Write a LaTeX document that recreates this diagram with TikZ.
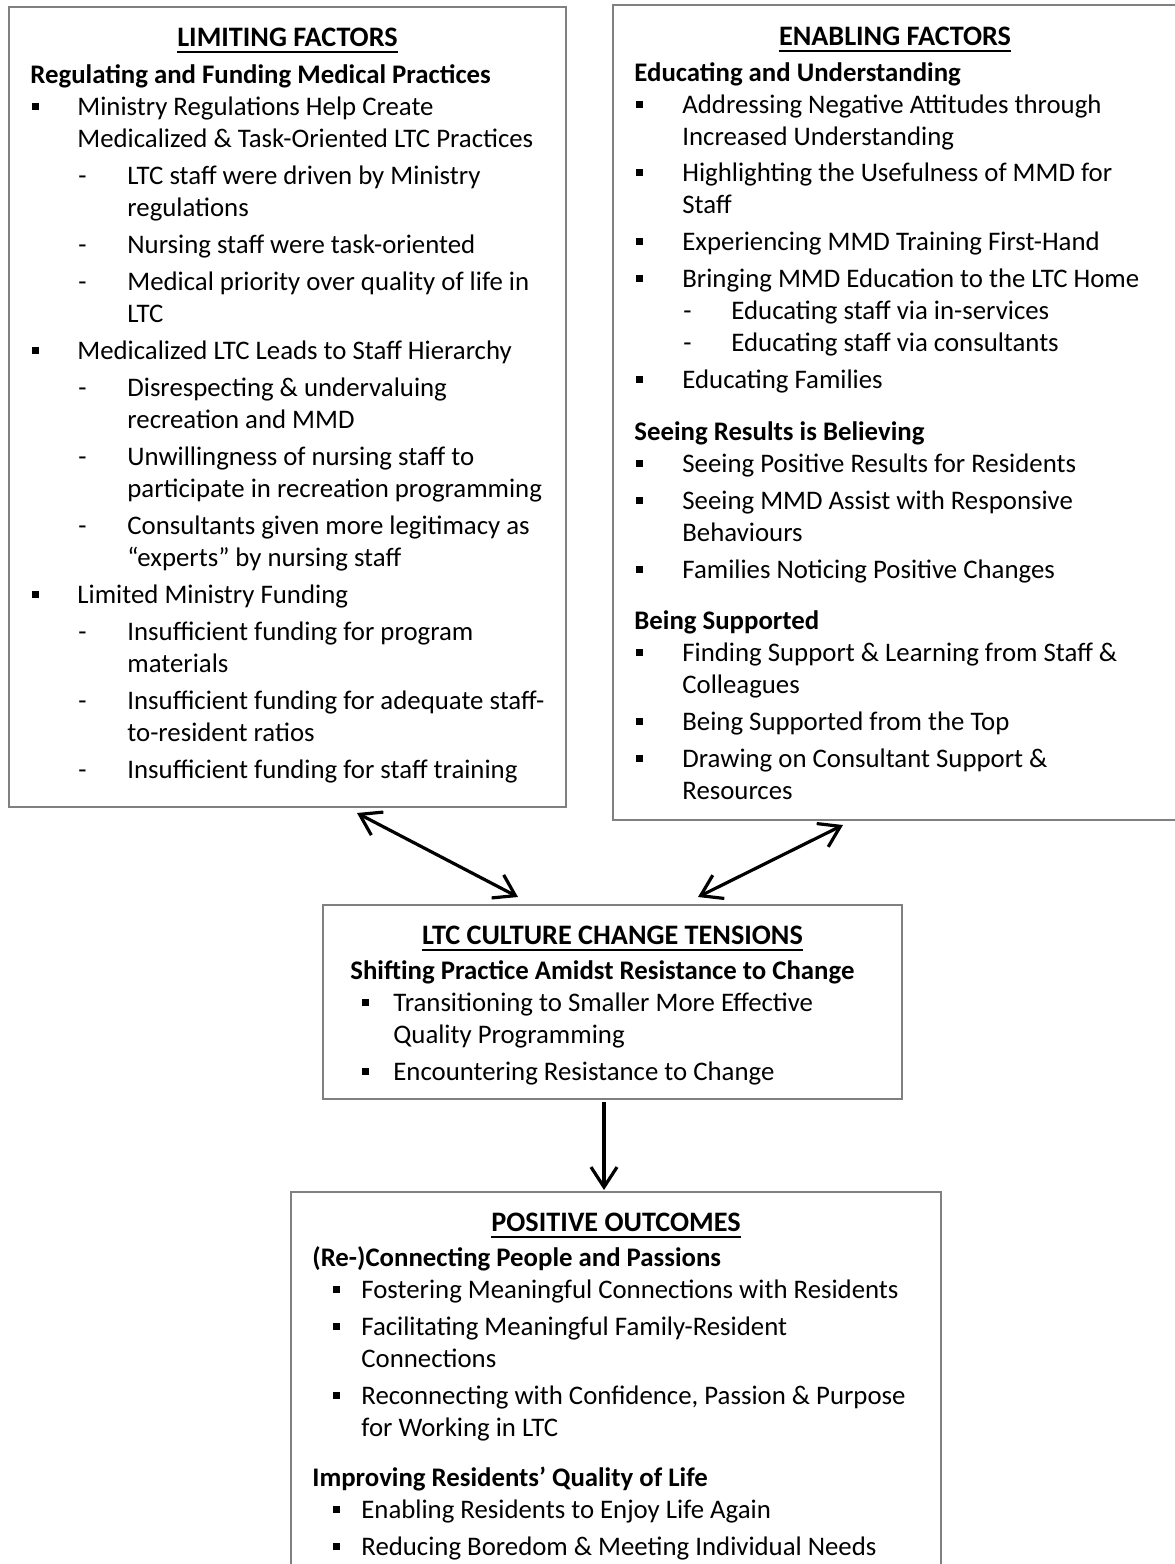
\documentclass[tikz,border=0pt]{standalone}
\usepackage{fontspec}
\setmainfont{Carlito}
\usetikzlibrary{arrows.meta,fit}
\definecolor{boxgray}{RGB}{128,128,128}
\tikzset{
  box/.style={draw=boxgray, line width=1pt, inner sep=0pt},
  txt/.style={anchor=base west, inner sep=0pt, font=\fontsize{13.4}{16}\selectfont},
  hdg/.style={anchor=base west, inner sep=0pt, font=\fontsize{13.4}{16}\selectfont\bfseries},
  ttl/.style={anchor=base, inner sep=0pt, font=\fontsize{14.1}{17}\selectfont\bfseries},
  uline/.style={line width=1pt},
  conn/.style={line width=1.6pt, {Straight Barb[length=10pt,width=13pt]}-{Straight Barb[length=10pt,width=13pt]}},
  conn1/.style={line width=1.6pt, -{Straight Barb[length=10pt,width=13pt]}},
}
\newcounter{tn}
\newcommand\mytl[3]{\stepcounter{tn}\node[txt] (t\arabic{tn}) at (#1,#2) {#3};}
\newcommand\myhd[3]{\stepcounter{tn}\node[hdg] (t\arabic{tn}) at (#1,#2) {#3};}
\newcommand\mytt[4]{\node[ttl] (#1) at (#2,#3) {#4};
  \draw[uline] ([yshift=-2.8pt]#1.base west) -- ([yshift=-2.8pt]#1.base east);}
\newcommand\mybul[4]{\fill (#1,#3-5) rectangle (#1+7,#3-12); \mytl{#2}{#3}{#4}}
\newcommand\mydash[4]{\mytl{#1}{#3}{-}\mytl{#2}{#3}{#4}}
\begin{document}
\begin{tikzpicture}[x=0.5pt,y=-0.5pt]
\useasboundingbox (0,0) rectangle (1174,1564);
% boxes
\node[box, fit={(9,7) (566,807)}] (L) {};
\node[box, fit={(613,5) (1177,820)}] (R) {};
\node[box, fit={(323,905) (902,1099)}] (M) {};
\node[box, fit={(291,1192) (941,1620)}] (B) {};
% LEFT
\mytt{Lt}{287.5}{46}{LIMITING FACTORS}
\myhd{30}{83}{Regulating and Funding Medical Practices}
\mybul{32}{77}{115}{Ministry Regulations Help Create}
\mytl{77}{147}{Medicalized \& Task-Oriented LTC Practices}
\mydash{78}{127}{184}{LTC staff were driven by Ministry}
\mytl{127}{216}{regulations}
\mydash{78}{127}{253}{Nursing staff were task-oriented}
\mydash{78}{127}{290}{Medical priority over quality of life in}
\mytl{127}{322}{LTC}
\mybul{32}{77}{359}{Medicalized LTC Leads to Staff Hierarchy}
\mydash{78}{127}{396}{Disrespecting \& undervaluing}
\mytl{127}{428}{recreation and MMD}
\mydash{78}{127}{465}{Unwillingness of nursing staff to}
\mytl{127}{497}{participate in recreation programming}
\mydash{78}{127}{534}{Consultants given more legitimacy as}
\mytl{127}{566}{“experts” by nursing staff}
\mybul{32}{77}{603}{Limited Ministry Funding}
\mydash{78}{127}{640}{Insufficient funding for program}
\mytl{127}{672}{materials}
\mydash{78}{127}{709}{Insufficient funding for adequate staff-}
\mytl{127}{741}{to-resident ratios}
\mydash{78}{127}{778}{Insufficient funding for staff training}
% RIGHT
\mytt{Rt}{895}{45}{ENABLING FACTORS}
\myhd{634}{81}{Educating and Understanding}
\mybul{636}{682}{113}{Addressing Negative Attitudes through}
\mytl{682}{145}{Increased Understanding}
\mybul{636}{682}{181}{Highlighting the Usefulness of MMD for}
\mytl{682}{213}{Staff}
\mybul{636}{682}{250}{Experiencing MMD Training First-Hand}
\mybul{636}{682}{287}{Bringing MMD Education to the LTC Home}
\mydash{683}{731}{319}{Educating staff via in-services}
\mydash{683}{731}{351}{Educating staff via consultants}
\mybul{636}{682}{388}{Educating Families}
\myhd{634}{440}{Seeing Results is Believing}
\mybul{636}{682}{472}{Seeing Positive Results for Residents}
\mybul{636}{682}{509}{Seeing MMD Assist with Responsive}
\mytl{682}{541}{Behaviours}
\mybul{636}{682}{578}{Families Noticing Positive Changes}
\myhd{634}{629}{Being Supported}
\mybul{636}{682}{661}{Finding Support \& Learning from Staff \&}
\mytl{682}{693}{Colleagues}
\mybul{636}{682}{730}{Being Supported from the Top}
\mybul{636}{682}{767}{Drawing on Consultant Support \&}
\mytl{682}{799}{Resources}
% MIDDLE
\mytt{Mt}{612.5}{944}{LTC CULTURE CHANGE TENSIONS}
\myhd{350}{979}{Shifting Practice Amidst Resistance to Change}
\mybul{362}{393}{1011}{Transitioning to Smaller More Effective}
\mytl{393}{1043}{Quality Programming}
\mybul{362}{393}{1080}{Encountering Resistance to Change}
% BOTTOM
\mytt{Bt}{616}{1231}{POSITIVE OUTCOMES}
\myhd{312}{1266}{(Re-)Connecting People and Passions}
\mybul{333}{361}{1298}{Fostering Meaningful Connections with Residents}
\mybul{333}{361}{1335}{Facilitating Meaningful Family-Resident}
\mytl{361}{1367}{Connections}
\mybul{333}{361}{1404}{Reconnecting with Confidence, Passion \& Purpose}
\mytl{361}{1436}{for Working in LTC}
\myhd{312}{1486}{Improving Residents’ Quality of Life}
\mybul{333}{361}{1518}{Enabling Residents to Enjoy Life Again}
\mybul{333}{361}{1555}{Reducing Boredom \& Meeting Individual Needs}
% connectors
\coordinate (a1) at (357,813);
\coordinate (a2) at (518,897);
\coordinate (a3) at (843,825);
\coordinate (a4) at (698,897);
\coordinate (a5) at (604,1102);
\coordinate (a6) at (604,1190);
\draw[conn] (a1) -- (a2);
\draw[conn] (a3) -- (a4);
\draw[conn1] (a5) -- (a6);
\end{tikzpicture}
\end{document}
